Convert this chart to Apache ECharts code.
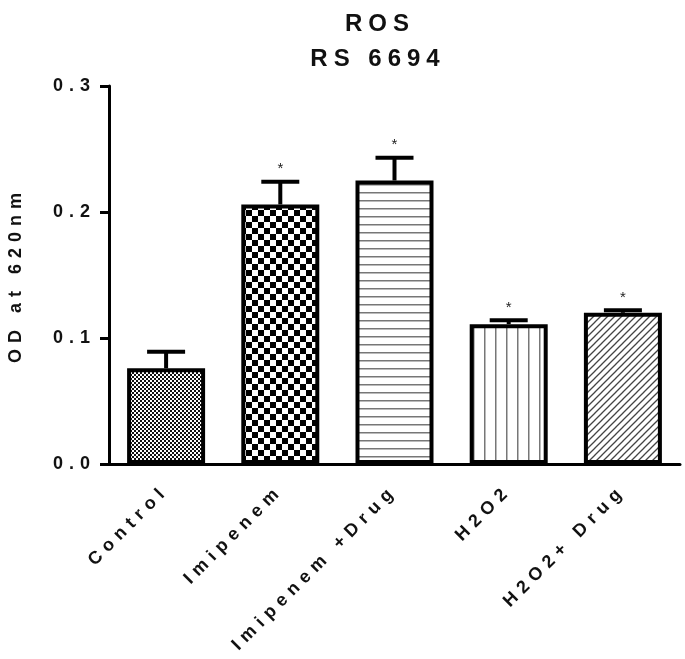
<!DOCTYPE html>
<html>
<head>
<meta charset="utf-8">
<script src="https://cdn.jsdelivr.net/npm/echarts@6/dist/echarts.min.js"></script>
<style>
  html, body { margin: 0; padding: 0; background: #fff; }
  #chart { width: 685px; height: 659px; }
</style>
</head>
<body>
<div id="chart"></div>
<script>
// data
var categories = ['Control', 'Imipenem', 'Imipenem +Drug', 'H2O2', 'H2O2+ Drug'];
var means = [0.076, 0.206, 0.225, 0.111, 0.120];
var errors = [0.013, 0.018, 0.018, 0.003, 0.002];
var marks = ['', '*', '*', '*', '*'];
var yTicks = [0.0, 0.1, 0.2, 0.3];

// fill patterns drawn on small canvases
function makePattern(w, h, draw) {
    var c = document.createElement('canvas');
    c.width = w;
    c.height = h;
    var ctx = c.getContext('2d');
    ctx.fillStyle = '#fff';
    ctx.fillRect(0, 0, w, h);
    draw(ctx);
    return { image: c, repeat: 'repeat' };
}
var patterns = [
    // fine dotted checker
    makePattern(4, 4, function (ctx) {
        ctx.fillStyle = '#111';
        ctx.fillRect(0, 0, 2, 2);
        ctx.fillRect(2, 2, 2, 2);
    }),
    // coarse checkerboard
    makePattern(12, 12, function (ctx) {
        ctx.fillStyle = '#000';
        ctx.fillRect(0, 0, 6, 6);
        ctx.fillRect(6, 6, 6, 6);
    }),
    // horizontal lines
    makePattern(8, 8, function (ctx) {
        ctx.fillStyle = '#777';
        ctx.fillRect(0, 0, 8, 1.5);
    }),
    // vertical lines
    makePattern(11, 11, function (ctx) {
        ctx.fillStyle = '#777';
        ctx.fillRect(0, 0, 1.5, 11);
    }),
    // diagonal lines
    makePattern(7, 7, function (ctx) {
        ctx.strokeStyle = '#444';
        ctx.lineWidth = 1.3;
        ctx.beginPath();
        ctx.moveTo(-1, 8); ctx.lineTo(8, -1);
        ctx.moveTo(-4, 4); ctx.lineTo(4, -4);
        ctx.moveTo(3, 11); ctx.lineTo(11, 3);
        ctx.stroke();
    })
];

var barData = means.map(function (v, i) {
    return {
        value: v,
        itemStyle: { color: patterns[i], borderColor: '#000', borderWidth: 4 }
    };
});
var errData = means.map(function (v, i) {
    return [i, v, v + errors[i], marks[i]];
});

var myChart = echarts.init(document.getElementById('chart'));
var font = '"Liberation Sans", Arial, sans-serif';
var option = {
    animation: false,
    backgroundColor: '#fff',
    title: [
        { text: 'ROS', left: 375, top: 7, textAlign: 'center',
          textStyle: { fontFamily: font, fontSize: 24, fontWeight: 'bold', color: '#111' } },
        { text: 'RS 6694', left: 373, top: 42, textAlign: 'center',
          textStyle: { fontFamily: font, fontSize: 24, fontWeight: 'bold', color: '#111' } }
    ],
    grid: {
        left: 109,
        right: 5,
        top: 86,
        bottom: 195,
        outerBoundsMode: 'none'
    },
    xAxis: {
        type: 'category',
        data: categories,
        axisLine: { lineStyle: { color: '#000', width: 3 } },
        axisTick: { alignWithLabel: true, length: 9, lineStyle: { color: '#000', width: 3 } },
        axisLabel: {
            rotate: 45,
            margin: 24,
            fontFamily: font,
            fontSize: 18,
            fontWeight: 'bold',
            color: '#111'
        }
    },
    yAxis: {
        type: 'value',
        min: 0,
        max: 0.3,
        interval: 0.1,
        name: 'OD at 620nm',
        nameLocation: 'middle',
        nameGap: 84,
        nameTextStyle: { fontFamily: font, fontSize: 18, fontWeight: 'bold', color: '#111' },
        splitLine: { show: false },
        axisLine: { show: true, lineStyle: { color: '#000', width: 3 } },
        axisTick: { show: true, length: 9, lineStyle: { color: '#000', width: 3 } },
        axisLabel: {
            margin: 13,
            fontFamily: font,
            fontSize: 18,
            fontWeight: 'bold',
            color: '#111',
            formatter: function (v) { return v.toFixed(1); }
        }
    },
    series: [
        {
            type: 'bar',
            barWidth: 78,
            data: barData,
            z: 2
        },
        {
            type: 'custom',
            z: 3,
            data: errData,
            renderItem: function (params, api) {
                var x = api.coord([api.value(0), api.value(1)])[0];
                var yLow = api.coord([api.value(0), api.value(1)])[1];
                var yHigh = api.coord([api.value(0), api.value(2)])[1];
                var half = 19;
                var children = [
                    { type: 'line', shape: { x1: x, y1: yLow, x2: x, y2: yHigh },
                      style: { stroke: '#000', lineWidth: 4 } },
                    { type: 'line', shape: { x1: x - half, y1: yHigh, x2: x + half, y2: yHigh },
                      style: { stroke: '#000', lineWidth: 4 } }
                ];
                if (marks[params.dataIndex]) {
                    children.push({
                        type: 'text',
                        style: {
                            text: marks[params.dataIndex],
                            x: x + 3, y: yHigh - 5,
                            align: 'center', verticalAlign: 'bottom',
                            font: '15px ' + font,
                            fill: '#222'
                        }
                    });
                }
                return { type: 'group', children: children };
            }
        }
    ]
};
myChart.setOption(option);

// the original uses wide tracking on all its text: set it on the
// drawing context once the canvas exists, then repaint everything
var cv = myChart.getDom().querySelector('canvas');
if (cv) {
    var c2d = cv.getContext('2d');
    if ('letterSpacing' in c2d) {
        c2d.letterSpacing = '6px';
        var zr = myChart.getZr();
        if (zr.painter && zr.painter.refresh) zr.painter.refresh(true);
    }
}
</script>
</body>
</html>
